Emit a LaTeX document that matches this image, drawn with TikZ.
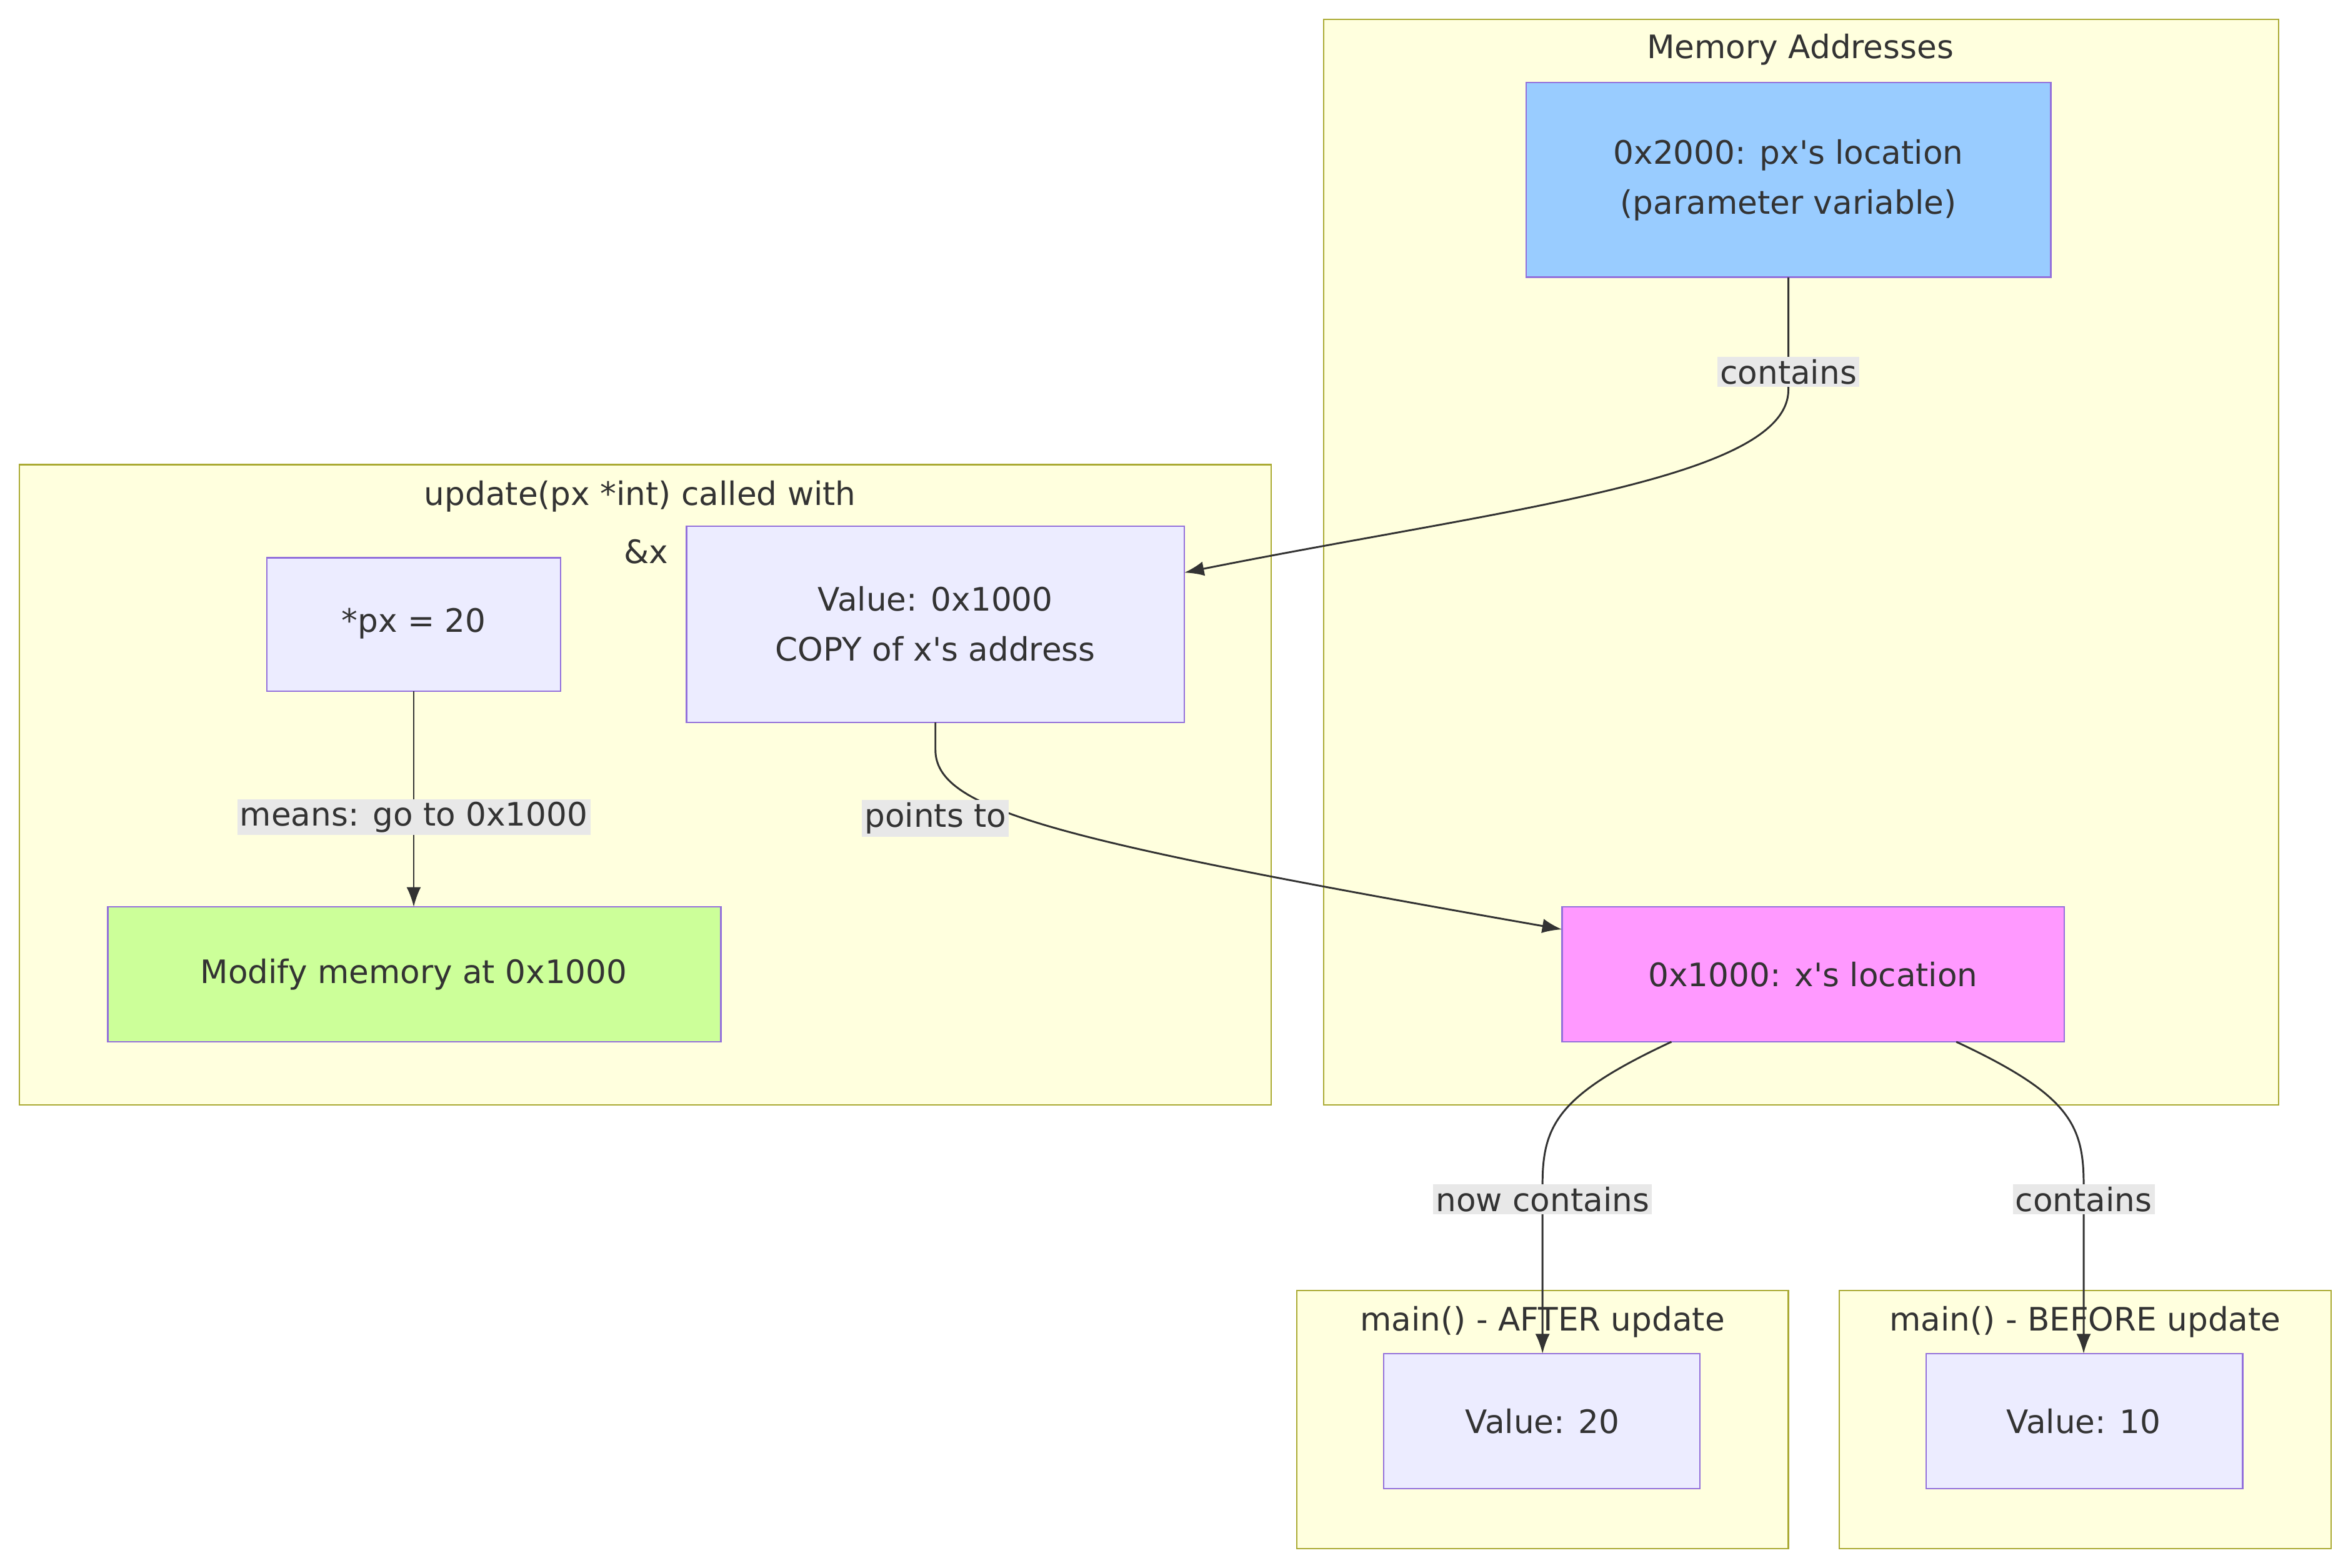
\documentclass[tikz,border=0pt]{standalone}
\usepackage{fontspec}
\setmainfont{DejaVu Sans}
\usetikzlibrary{arrows.meta}
\newcommand\ap{\textquotesingle}
\definecolor{clf}{HTML}{FFFFDE}\definecolor{cls}{HTML}{AAAA33}
\definecolor{ndf}{HTML}{ECECFF}\definecolor{nds}{HTML}{9370DB}
\definecolor{lbl}{HTML}{E8E8E8}\definecolor{txt}{HTML}{333333}
\definecolor{blue1}{HTML}{99CCFF}\definecolor{pink1}{HTML}{FF99FF}\definecolor{green1}{HTML}{CCFF99}
\begin{document}
\begin{tikzpicture}[x=0.04cm,y=-0.04cm,
  every node/.style={text=txt,font=\fontsize{24.5}{38}\selectfont},
  cl/.style={draw=cls,fill=clf,line width=1.2pt},
  nd/.style={draw=nds,fill=ndf,line width=1.2pt},
  lb/.style={fill=lbl,inner sep=2pt,align=center},
  ed/.style={draw=txt,line width=1.4pt,-{Latex[length=15pt,width=11pt]}}]
\useasboundingbox (0,0) rectangle (1563,1046);
% clusters
\draw[cl] (883,13) rectangle (1520,737);
\node (tmem) at (1201,33) {Memory Addresses};
\draw[cl] (13,310) rectangle (848,737);
\node (tupd) at (427,331) {update(px *int) called with};
\node (tupd2) at (431,368) {\&x};
\draw[cl] (865,861) rectangle (1193,1033);
\node (taft) at (1029,882) {main() - AFTER update};
\draw[cl] (1227,861) rectangle (1555,1033);
\node (tbef) at (1391,882) {main() - BEFORE update};
% nodes
\draw[nd,fill=blue1] (1018,55) rectangle (1368,185);
\node[align=center] (p2000) at (1193,120) {0x2000: px\ap s location\\(parameter variable)};
\draw[nd,fill=pink1] (1042,605) rectangle (1377,695);
\node (x1000) at (1209.5,650) {0x1000: x\ap s location};
\draw[nd] (178,372) rectangle (374,461);
\node (px) at (276,416) {*px = 20};
\draw[nd] (458,351) rectangle (790,482);
\node[align=center] (val) at (624,416) {Value: 0x1000\\COPY of x\ap s address};
\draw[nd,fill=green1] (72,605) rectangle (481,695);
\node (mod) at (276,650) {Modify memory at 0x1000};
\draw[nd] (923,903) rectangle (1134,993);
\node (v20) at (1029,948) {Value: 20};
\draw[nd] (1285,903) rectangle (1496,993);
\node (v10) at (1390,948) {Value: 10};
% edges
\coordinate (a1) at (1193,185);
\coordinate (a2) at (790,382);
\draw[ed] (a1) -- (1193,260) .. controls (1193,320) and (1000,340) .. (a2);
\coordinate (b1) at (624,482);
\coordinate (b2) at (1042,620);
\draw[ed] (b1) -- (624,500) .. controls (624,540) and (700,560) .. (b2);
\coordinate (c1) at (276,461);
\coordinate (c2) at (276,605);
\draw[ed] (c1) -- (c2);
\coordinate (d1) at (1115,695);
\coordinate (d2) at (1029,903);
\draw[ed] (d1) .. controls (1040,730) and (1029,750) .. (1029,790) -- (d2);
\coordinate (e1) at (1305,695);
\coordinate (e2) at (1390,903);
\draw[ed] (e1) .. controls (1380,730) and (1390,750) .. (1390,790) -- (e2);
% labels
\node[lb] (l1) at (1193,248) {contains};
\node[lb] (l2) at (624,546) {points to};
\node[lb] (l3) at (276,545) {means: go to 0x1000};
\node[lb] (l4) at (1029,800) {now contains};
\node[lb] (l5) at (1390,800) {contains};
\end{tikzpicture}
\end{document}
